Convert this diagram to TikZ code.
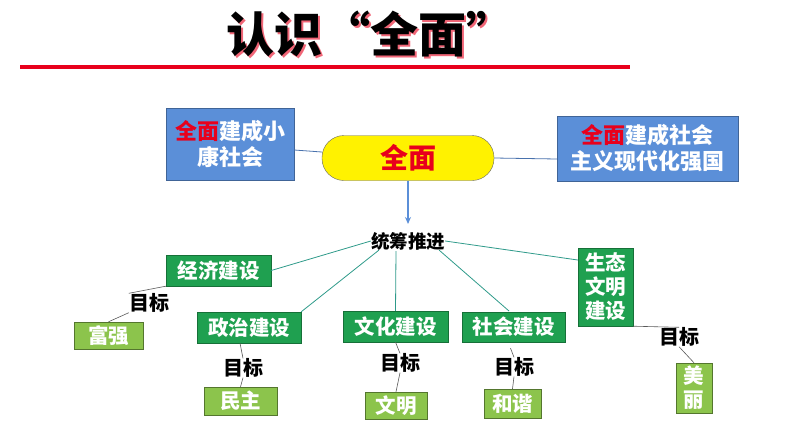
\documentclass[tikz,border=0pt]{standalone}
\usepackage{fontspec}
\newfontfamily\cjk{Noto Sans CJK SC}
\usetikzlibrary{arrows.meta}
\definecolor{bluebox}{HTML}{5B8FD8}
\definecolor{dkgreen}{HTML}{1FA050}
\definecolor{ltgreen}{HTML}{8CC44C}
\definecolor{hdred}{HTML}{E8001C}
\definecolor{link}{HTML}{2E9A8A}
\tikzset{
  every node/.style={font=\cjk\bfseries, inner sep=0pt},
  bbox/.style={fill=bluebox, draw=bluebox!70!black, text=white, font=\cjk\bfseries\fontsize{22}{26}\selectfont, align=center},
  gbox/.style={fill=dkgreen, draw=dkgreen!70!black, text=white, font=\cjk\bfseries\fontsize{20.5}{24}\selectfont, align=center},
  lbox/.style={fill=ltgreen, draw=ltgreen!60!black, text=white, font=\cjk\bfseries\fontsize{20.5}{24}\selectfont, align=center},
  goal/.style={text=black, font=\cjk\bfseries\fontsize{20}{22}\selectfont},
  main/.style={draw=link, line width=0.8pt},
  sub/.style={draw=gray!70!black, line width=0.6pt},
}
\begin{document}
\begin{tikzpicture}[x=1pt,y=-1pt]
\useasboundingbox (0,0) rectangle (794,447);
% title
\node (title) [text=black, font=\cjk\bfseries\fontsize{48}{50}\selectfont] at (370,35) {\makebox[0pt][l]{\hspace{2pt}\raisebox{-2pt}{\textcolor{hdred!60}{认识“全面”}}}认识“全面”};
\fill[hdred] (20,65) rectangle (630,69);
% top
\node (L) [bbox, minimum width=128, minimum height=72] at (230,144) {\textcolor{hdred}{全面}建成小\\康社会};
\node (R) [bbox, minimum width=181, minimum height=65] at (647.5,148.5) {\textcolor{hdred}{全面}建成社会\\主义现代化强国};
\node (C) [fill=yellow, draw=black!60, rounded corners=22, minimum width=172, minimum height=45, text=hdred, font=\cjk\bfseries\fontsize{28}{30}\selectfont] at (408,158) {全面};
\draw[draw=bluebox!80!black, line width=0.8pt] (L.east |- 0,150) -- (C.west |- 0,152);
\draw[draw=bluebox!80!black, line width=0.8pt] (C.east) -- (R.west |- 0,159);
\node (T) [text=black, font=\cjk\bfseries\fontsize{18.5}{20}\selectfont] at (408,241) {统筹推进};
\draw[-{Stealth[length=7pt,width=6pt]}, draw=bluebox, line width=1.5pt] (C.south) -- (408,224);
% green boxes
\node (E) [gbox, minimum width=105, minimum height=31] at (218.5,270.5) {经济建设};
\node (P) [gbox, minimum width=104, minimum height=31] at (249,327.5) {政治建设};
\node (Cu) [gbox, minimum width=105, minimum height=31] at (395.5,326.5) {文化建设};
\node (S) [gbox, minimum width=103, minimum height=30] at (513.5,327) {社会建设};
\node (Ec) [gbox, minimum width=55, minimum height=78] at (605.5,287) {生态\\文明\\建设};
\draw[main] (T.west) -- (E.east);
\draw[main] (T.south west) ++(8,0) -- (P.north east);
\draw[main] (396,251) -- (Cu.north);
\draw[main] (T.south east) ++(-6,0) -- (509,311);
\draw[main] (T.east) -- (Ec.west |- 0,260);
% goals
\node (g1) [goal] at (149,303) {目标};
\node (g2) [goal] at (243,368) {目标};
\node (g3) [goal] at (400,363) {目标};
\node (g4) [goal] at (514,367) {目标};
\node (g5) [goal] at (679,337) {目标};
\node (f1) [lbox, minimum width=69, minimum height=27] at (108.5,335.5) {富强};
\node (f2) [lbox, minimum width=73, minimum height=28] at (240.5,401) {民主};
\node (f3) [lbox, minimum width=62, minimum height=27] at (396,405.5) {文明};
\node (f4) [lbox, minimum width=57, minimum height=29] at (512.5,403.5) {和谐};
\node (f5) [lbox, minimum width=36, minimum height=50] at (694,388) {美\\丽};
\draw[sub] (E.south west) -- (g1.north west);
\draw[sub] (g1.south west) -- (f1.north);
\draw[sub] (P.south -| 240,0) -- (g2.north);
\draw[sub] (g2.south) -- (f2.north);
\draw[sub] (Cu.south) -- (g3.north);
\draw[sub] (g3.south) -- (f3.north);
\draw[sub] (S.south) ++(-3,6) -- (g4.north);
\draw[sub] (g4.south) -- (f4.north);
\draw[sub] (Ec.south east) -- (g5.north);
\draw[sub] (g5.south) -- (f5.north);
\end{tikzpicture}
\end{document}
